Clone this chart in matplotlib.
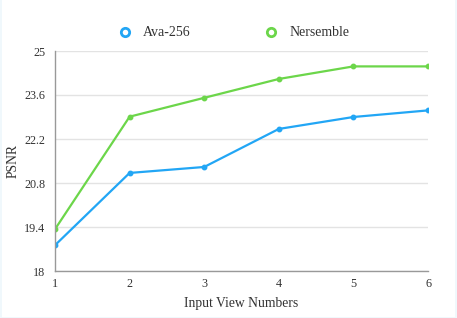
import matplotlib
matplotlib.use("Agg")
import matplotlib.pyplot as plt
from matplotlib.lines import Line2D
from matplotlib.patches import Rectangle

views = [1, 2, 3, 4, 5, 6]
ava256 = [18.82, 21.12, 21.31, 22.52, 22.90, 23.11]
nersemble = [19.33, 22.91, 23.51, 24.11, 24.51, 24.51]
yticks = [18, 19.4, 20.8, 22.2, 23.6, 25]
ytick_labels = ["18", "19.4", "20.8", "22.2", "23.6", "25"]

blue = "#22a6f5"
green = "#6cd64a"

plt.rcParams['font.family'] = ['Liberation Serif', 'DejaVu Serif']

fig = plt.figure(figsize=(4.57, 3.18), dpi=100)
fig.patches.append(Rectangle((0.5/457, 0.5/318), 455/457, 1.2, transform=fig.transFigure,
                             fill=False, edgecolor='#eef7fc', lw=1.2))
ax = fig.add_axes([55/457, 1-271/318, (428-55)/457, (271-51)/318])

ax.plot(views, ava256, color=blue, lw=1.6, marker='o', ms=3.2, label='Ava-256')
ax.plot(views, nersemble, color=green, lw=1.6, marker='o', ms=3.2, label='Nersemble')

ax.set_xlim(1, 6)
ax.set_ylim(18, 25)
ax.set_yticks(yticks)
ax.set_yticklabels(ytick_labels)
ax.set_xticks(views)
ax.grid(axis='y', color='#e3e3e3', lw=1)
ax.set_axisbelow(True)
for s in ['top', 'right']:
    ax.spines[s].set_visible(False)
for s in ['left', 'bottom']:
    ax.spines[s].set_color('#999999')
    ax.spines[s].set_linewidth(1)
ax.tick_params(length=0, labelsize=8.7, colors='#333333', pad=7)
ax.tick_params(axis='x', pad=5)
ax.set_xlabel('Input View Numbers', fontsize=9.8, color='#333333')
ax.set_ylabel('PSNR', fontsize=9.8, color='#333333')
ax.yaxis.set_label_coords((13.5 - 55) / 373, 0.5)
ax.xaxis.set_label_coords(0.5, -(303 - 271) / 220)
ax.xaxis.label.set_va('center')
ax.yaxis.label.set_va('center')

handles = [Line2D([], [], color=blue, marker='o', ls='none', ms=6, mfc='white', mew=2),
           Line2D([], [], color=green, marker='o', ls='none', ms=6, mfc='white', mew=2)]
fig.legend(handles, ['Ava-256', 'Nersemble'], loc='center', bbox_to_anchor=(230/457, 1-33/318),
           ncol=2, frameon=False, fontsize=10, columnspacing=4.8, handletextpad=0.3,
           labelcolor='#333333')

fig.savefig('out.png', dpi=100)
